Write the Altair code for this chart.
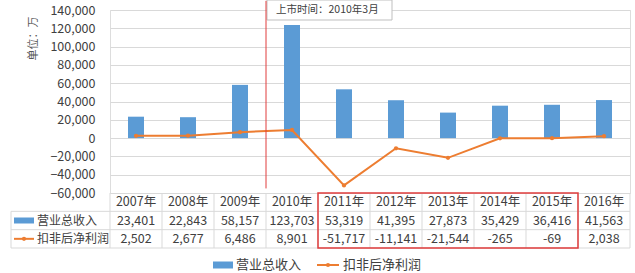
import altair as alt
import pandas as pd

years = ["2007年", "2008年", "2009年", "2010年", "2011年", "2012年",
         "2013年", "2014年", "2015年", "2016年"]
revenue = [23401, 22843, 58157, 123703, 53319, 41395, 27873, 35429, 36416, 41563]
profit = [2502, 2677, 6486, 8901, -51717, -11141, -21544, -265, -69, 2038]
series = ["营业总收入", "扣非后净利润"]
y_ticks = [-60000, -40000, -20000, 0, 20000, 40000, 60000, 80000, 100000, 120000, 140000]
unit_label = "单位：万"
listing_year = "2010年"
listing_label = "上市时间：2010年3月"
highlight = ["2011年", "2015年"]

FONT = "Noto Sans CJK SC"
TXT = "#404040"
BLUE = "#5B9BD5"
ORANGE = "#ED7D31"
GRID = "#D9D9D9"
RED = "#E03C3C"
W, H = 520, 183

df = pd.DataFrame({"year": years, "revenue": revenue, "profit": profit})
xband = alt.Scale(domain=years, paddingInner=0, paddingOuter=0)
yscale = alt.Scale(domain=[y_ticks[0], y_ticks[-1]], nice=False)

bars = alt.Chart(df).mark_bar(size=16, color=BLUE).encode(
    x=alt.X("year:N", scale=xband, axis=None),
    y=alt.Y("revenue:Q", scale=yscale, axis=alt.Axis(
        values=y_ticks, labelExpr="format(datum.value, ',.0f')", grid=True,
        gridColor=GRID, domain=False,
        ticks=False, labelPadding=15, labelFontSize=12.5, labelColor=TXT,
        labelFont=FONT, title=unit_label, titleFont=FONT, titleFontSize=11,
        titleColor="#595959", titleFontWeight="normal", titleAngle=-90,
        titleX=-77, titleY=28, titleAlign="center", titleBaseline="middle")),
)

line = alt.Chart(df).mark_line(
    color=ORANGE, strokeWidth=2,
    point=alt.OverlayMarkDef(color=ORANGE, filled=True, size=18)
).encode(
    x=alt.X("year:N", scale=xband, axis=None),
    y=alt.Y("profit:Q", scale=yscale, axis=None),
)

ann = pd.DataFrame({"year": [listing_year], "top": [150000], "bottom": [-55000],
                    "label": [listing_label]})
box = alt.Chart(ann).mark_rect(fill="white", stroke="#BFBFBF", strokeWidth=1).encode(
    x=alt.value(157), x2=alt.value(282), y=alt.value(-10), y2=alt.value(10))
box_text = alt.Chart(ann).mark_text(align="left", baseline="middle", font=FONT,
                                    fontSize=10.5, color=TXT).encode(
    x=alt.value(166), y=alt.value(0), text="label:N")
vline = alt.Chart(ann).mark_rule(color=RED, strokeWidth=1).encode(
    x=alt.X("year:N", scale=xband, axis=None, bandPosition=0),
    y=alt.Y("top:Q", scale=yscale, axis=None), y2="bottom:Q")

# data table
trows = []
for i, yr in enumerate(years):
    trows.append({"col": i + 0.5, "row": 0.5, "txt": yr})
    trows.append({"col": i + 0.5, "row": 1.5, "txt": f"{revenue[i]:,}"})
    trows.append({"col": i + 0.5, "row": 2.5, "txt": f"{profit[i]:,}"})
xcol = alt.Scale(domain=[0, len(years)], nice=False)
yrow = alt.Scale(domain=[0, 3], range=[183, 238], nice=False)

table_text = alt.Chart(pd.DataFrame(trows)).mark_text(
    font=FONT, fontSize=12.5, color=TXT, baseline="middle").encode(
    x=alt.X("col:Q", scale=xcol, axis=None),
    y=alt.Y("row:Q", scale=yrow, axis=None), text="txt:N")

vb = pd.DataFrame({"c": list(range(len(years) + 1)), "r1": 0, "r2": 3})
vrules = alt.Chart(vb).mark_rule(color=GRID).encode(
    x=alt.X("c:Q", scale=xcol, axis=None),
    y=alt.Y("r1:Q", scale=yrow, axis=None), y2="r2:Q")
lb = pd.DataFrame({"r1": [1], "r2": [3]})
lrule = alt.Chart(lb).mark_rule(color=GRID).encode(
    x=alt.value(-99), y=alt.Y("r1:Q", scale=yrow, axis=None), y2="r2:Q")
hb = pd.DataFrame({"r": [1, 2, 3]})
hrules = alt.Chart(hb).mark_rule(color=GRID).encode(
    x=alt.value(-99), x2=alt.value(W), y=alt.Y("r:Q", scale=yrow, axis=None))

rb = pd.DataFrame({"c1": [years.index(highlight[0])], "c2": [years.index(highlight[1]) + 1],
                   "r1": [0], "r2": [3]})
redbox = alt.Chart(rb).mark_rect(filled=False, color=RED, strokeWidth=1.5).encode(
    x=alt.X("c1:Q", scale=xcol, axis=None), x2="c2:Q",
    y=alt.Y("r1:Q", scale=yrow, axis=None), y2="r2:Q")

labels = pd.DataFrame({"row": [1.5, 2.5], "name": series})
row_labels = alt.Chart(labels).mark_text(align="left", baseline="middle", font=FONT,
                                         fontSize=12, color=TXT).encode(
    x=alt.value(-73), y=alt.Y("row:Q", scale=yrow, axis=None), text="name:N")
sym_bar = alt.Chart(labels.iloc[[0]]).mark_rule(color=BLUE, strokeWidth=6).encode(
    x=alt.value(-96), x2=alt.value(-76), y=alt.Y("row:Q", scale=yrow, axis=None))
sym_line = alt.Chart(labels.iloc[[1]]).mark_rule(color=ORANGE, strokeWidth=2).encode(
    x=alt.value(-96), x2=alt.value(-76), y=alt.Y("row:Q", scale=yrow, axis=None))
sym_pt = alt.Chart(labels.iloc[[1]]).mark_point(color=ORANGE, filled=True, size=18, opacity=1).encode(
    x=alt.value(-86), y=alt.Y("row:Q", scale=yrow, axis=None))

# bottom legend
leg = pd.DataFrame({"name": series})
leg_bar = alt.Chart(leg.iloc[[0]]).mark_rule(color=BLUE, strokeWidth=7).encode(
    x=alt.value(103), x2=alt.value(123), y=alt.value(255))
leg_bar_t = alt.Chart(leg.iloc[[0]]).mark_text(align="left", baseline="middle", font=FONT,
                                               fontSize=13, color=TXT).encode(
    x=alt.value(126), y=alt.value(255), text="name:N")
leg_line = alt.Chart(leg.iloc[[1]]).mark_rule(color=ORANGE, strokeWidth=2).encode(
    x=alt.value(207), x2=alt.value(229), y=alt.value(255))
leg_pt = alt.Chart(leg.iloc[[1]]).mark_point(color=ORANGE, filled=True, size=18, opacity=1).encode(
    x=alt.value(218), y=alt.value(255))
leg_line_t = alt.Chart(leg.iloc[[1]]).mark_text(align="left", baseline="middle", font=FONT,
                                                fontSize=13, color=TXT).encode(
    x=alt.value(233), y=alt.value(255), text="name:N")

chart = alt.layer(
    bars, line, box, box_text, vline,
    vrules, lrule, hrules, table_text, redbox,
    row_labels, sym_bar, sym_line, sym_pt,
    leg_bar, leg_bar_t, leg_line, leg_pt, leg_line_t,
).resolve_scale(x="independent", y="independent").properties(
    width=W, height=H,
    padding={"left": 110, "top": 10, "right": 5, "bottom": 80},
    autosize=alt.AutoSizeParams(type="none"),
    background="white",
).configure_view(strokeWidth=0).configure(font=FONT)

chart.save("out.html", embed_options={"renderer": "svg", "actions": False})
